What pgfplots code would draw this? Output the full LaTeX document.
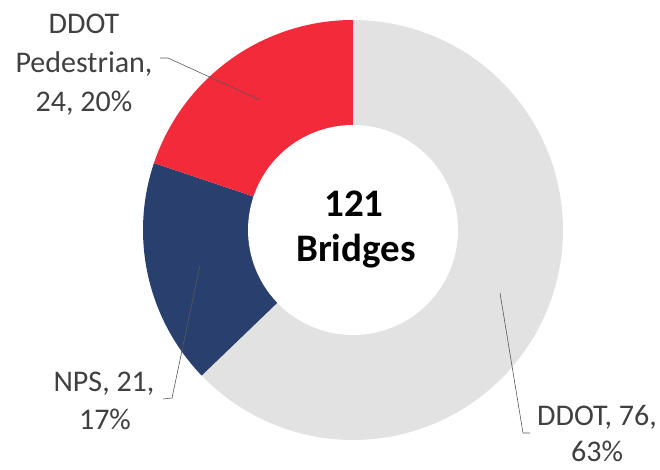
\documentclass[border=0pt]{standalone}
\usepackage{pgfplots}
\pgfplotsset{compat=1.18}
\usepackage{fontspec}
\setmainfont{Carlito}
\definecolor{cddot}{HTML}{E2E2E2}
\definecolor{cnps}{HTML}{293F6E}
\definecolor{cped}{HTML}{F22A3A}
\definecolor{ctxt}{HTML}{404040}
\definecolor{cline}{HTML}{595959}
% values
\def\vDDOT{76}
\def\vNPS{21}
\def\vPED{24}
\pgfmathsetmacro{\tot}{\vDDOT+\vNPS+\vPED}
\pgfmathsetmacro{\aA}{90}
\pgfmathsetmacro{\aB}{90-\vDDOT/\tot*360}
\pgfmathsetmacro{\aC}{\aB-\vNPS/\tot*360}
\pgfmathsetmacro{\aD}{\aC-\vPED/\tot*360}
\def\cx{353}
\def\cy{240}
\def\Ro{210}
\def\Ri{105}
\begin{document}
\begin{tikzpicture}
\begin{axis}[
  scale only axis, width=660pt, height=470pt,
  xmin=0, xmax=660, ymin=0, ymax=470,
  hide axis, clip=false,
]
\addplot[fill=cddot, draw=none, domain=\aB:\aA, samples=120]
  ({\cx+\Ro*cos(x)},{\cy+\Ro*sin(x)}) -- (axis cs:\cx,\cy) -- cycle;
\addplot[fill=cnps, draw=none, domain=\aC:\aB, samples=60]
  ({\cx+\Ro*cos(x)},{\cy+\Ro*sin(x)}) -- (axis cs:\cx,\cy) -- cycle;
\addplot[fill=cped, draw=none, domain=\aD:\aC, samples=60]
  ({\cx+\Ro*cos(x)},{\cy+\Ro*sin(x)}) -- (axis cs:\cx,\cy) -- cycle;
\addplot[fill=white, draw=none, domain=0:360, samples=120]
  ({\cx+\Ri*cos(x)},{\cy+\Ri*sin(x)}) -- cycle;
% leader lines
\addplot[draw=cline, line width=0.6pt] coordinates {(160,412) (168,412) (260,370)};
\addplot[draw=cline, line width=0.6pt] coordinates {(200,205) (172,72) (163,71)};
\addplot[draw=cline, line width=0.6pt] coordinates {(500,177) (523,37) (530,37)};
% labels
\begin{scope}[every node/.style={anchor=base, inner sep=0pt, text=ctxt, font=\fontsize{30}{38}\selectfont}]
\node at (axis cs:84,436) {DDOT};
\node at (axis cs:84,397) {Pedestrian,};
\node at (axis cs:84,358) {24, 20\%};
\node at (axis cs:104,78) {NPS, 21,};
\node at (axis cs:105,40) {17\%};
\node at (axis cs:597,44) {DDOT, 76,};
\node at (axis cs:597,8) {63\%};
\end{scope}
\node[anchor=base, inner sep=0pt, font=\fontsize{39}{46}\selectfont\bfseries] at (axis cs:354,253) {121};
\node[anchor=base, inner sep=0pt, font=\fontsize{39}{46}\selectfont\bfseries] at (axis cs:356,208) {Bridges};
\end{axis}
\pgfresetboundingbox
\path (current axis.south west) rectangle (current axis.north east);
\end{tikzpicture}
\end{document}
